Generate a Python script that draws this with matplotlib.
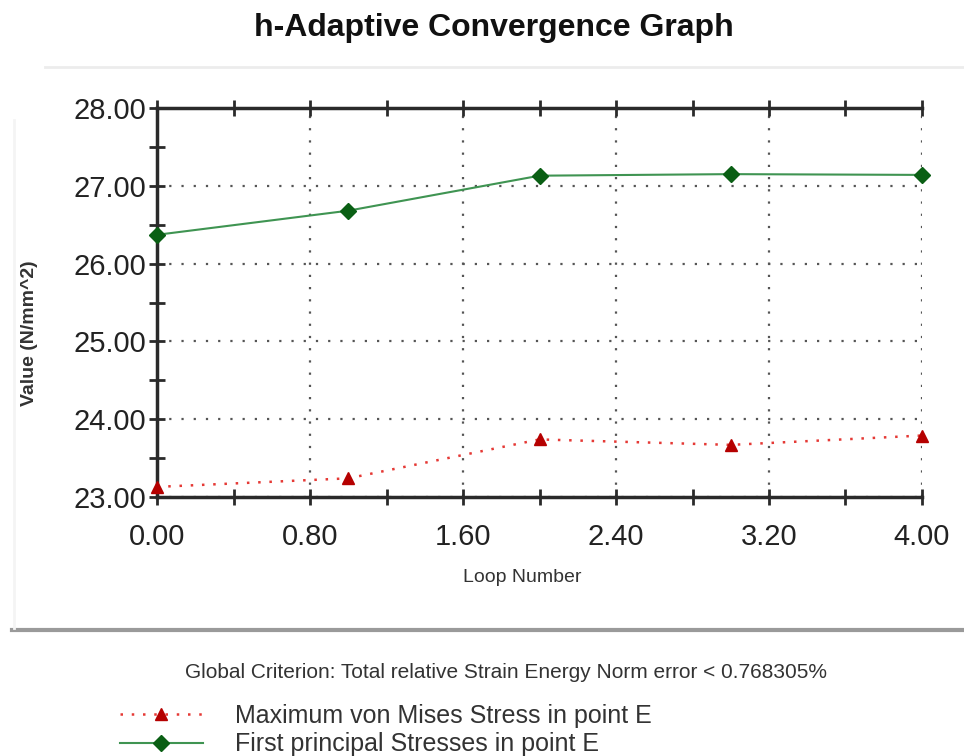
import matplotlib
matplotlib.use("Agg")
import matplotlib.pyplot as plt
from matplotlib.lines import Line2D
from matplotlib.ticker import MultipleLocator, FormatStrFormatter

plt.rcParams['font.family'] = ['Liberation Sans', 'DejaVu Sans']

# Data
loops = [0, 1, 2, 3, 4]
von_mises = [23.13, 23.24, 23.74, 23.67, 23.79]
first_principal = [26.37, 26.68, 27.13, 27.15, 27.14]

title = "h-Adaptive Convergence Graph"
xlabel = "Loop Number"
ylabel = "Value (N/mm^2)"
criterion = "Global Criterion: Total relative Strain Energy Norm error < 0.768305%"
labels = ["Maximum von Mises Stress in point E", "First principal Stresses in point E"]

W, H = 964, 756
fig = plt.figure(figsize=(W / 100, H / 100), dpi=100)
fig.patch.set_facecolor('white')

ax = fig.add_axes([157 / W, 1 - 497 / H, (922 - 157) / W, (497 - 108) / H])

l1, = ax.plot(loops, von_mises, color='#e53935', linestyle=(0, (1, 3.5)), linewidth=1.8,
              marker='^', markersize=8, markerfacecolor='#b50000', markeredgecolor='#b50000',
              clip_on=False, zorder=3)
l2, = ax.plot(loops, first_principal, color='#3f9452', linestyle='-', linewidth=1.5,
              marker='D', markersize=8, markerfacecolor='#0a5f14', markeredgecolor='#0a5f14',
              clip_on=False, zorder=3)

ax.set_xlim(0, 4)
ax.set_ylim(23, 28)
ax.xaxis.set_major_locator(MultipleLocator(0.8))
ax.xaxis.set_minor_locator(MultipleLocator(0.4))
ax.yaxis.set_major_locator(MultipleLocator(1.0))
ax.yaxis.set_minor_locator(MultipleLocator(0.5))
ax.xaxis.set_major_formatter(FormatStrFormatter('%.2f'))
ax.yaxis.set_major_formatter(FormatStrFormatter('%.2f'))

ax.grid(True, which='major', color='#555555', linestyle=(0, (1, 4.5)), linewidth=1.6)
ax.spines['right'].set_visible(False)
for s in ['left', 'bottom', 'top']:
    ax.spines[s].set_linewidth(2.5)
    ax.spines[s].set_color('#2a2a2a')

ax.tick_params(which='both', direction='inout', top=True, right=False, color='#2a2a2a', width=2)
ax.tick_params(which='major', length=12)
ax.tick_params(which='minor', length=12)
ax.tick_params(axis='x', labelsize=21, pad=13, labelcolor='#222222')
ax.tick_params(axis='y', labelsize=21, pad=2, labelcolor='#222222')
ax.tick_params(axis='x', which='both', labeltop=False)

fig.text(494 / W, 1 - 28 / H, title, ha='center', va='center', fontsize=23, fontweight='bold', color='#111111')
fig.text(30 / W, 1 - 333 / H, ylabel, ha='center', va='center', rotation=90, fontsize=14, fontweight='bold', color='#333333')
fig.text(522 / W, 1 - 578 / H, xlabel, ha='center', va='center', fontsize=14, color='#333333')

# panel borders
fig.add_artist(Line2D([12 / W, 1], [1 - 630 / H, 1 - 630 / H], color='#9a9a9a', linewidth=3))
fig.add_artist(Line2D([45 / W, 1], [1 - 67 / H, 1 - 67 / H], color='#ececec', linewidth=2))
fig.add_artist(Line2D([14 / W, 14 / W], [1 - 628 / H, 1 - 120 / H], color='#f4f4f4', linewidth=2))

fig.text(185 / W, 1 - 672 / H, criterion, ha='left', va='center', fontsize=15, color='#333333')

leg = fig.legend([l1, l2], labels, loc='upper left', bbox_to_anchor=(120 / W, 1 - 704 / H),
                 frameon=False, fontsize=18, handlelength=3.3, handletextpad=1.3,
                 labelspacing=0.18, borderpad=0, borderaxespad=0)
for t in leg.get_texts():
    t.set_color('#333333')

fig.savefig('out.png', dpi=100, facecolor='white')
